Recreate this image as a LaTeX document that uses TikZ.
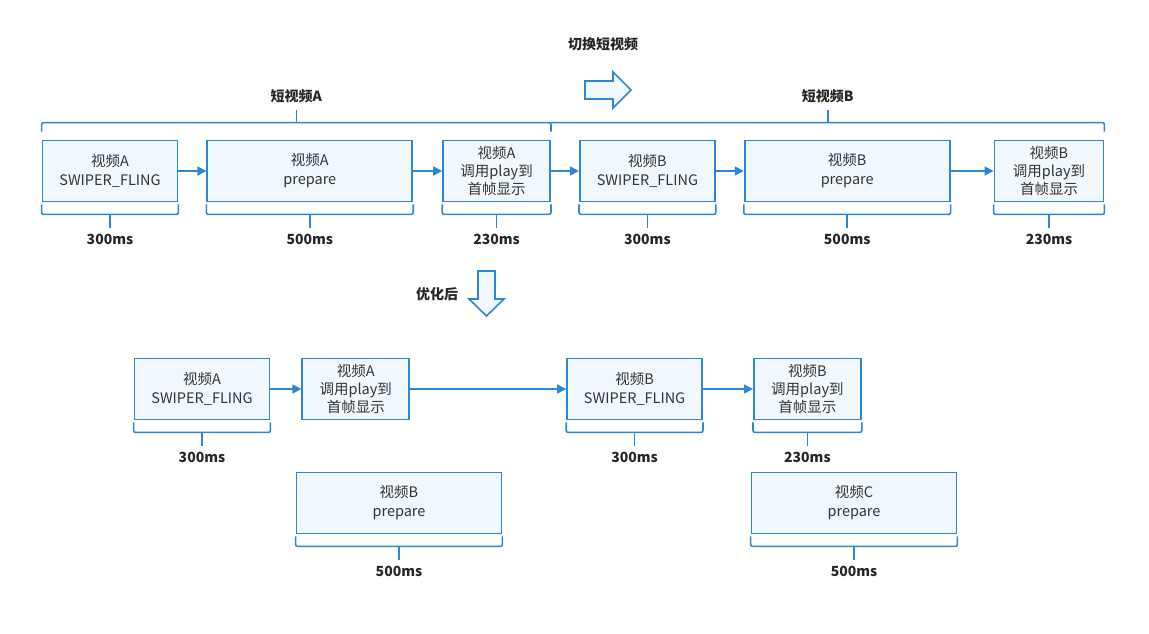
\documentclass[tikz,border=0pt]{standalone}
\usepackage{fontspec}
\setmainfont{Noto Sans CJK SC}
\usetikzlibrary{positioning}
\usetikzlibrary{arrows.meta}
\usetikzlibrary{calc}
\definecolor{lineblue}{HTML}{2B88D8}
\definecolor{boxfill}{HTML}{F0F8FE}
\definecolor{textgray}{HTML}{333333}

% time span bracket under a box: box, end coordinate, label
\newcommand{\costbrace}[3]{%
  \draw[brace] ([yshift=-2pt]#1.south west) -- ([yshift=-12pt]#1.south west)
    -- ([yshift=-12pt]#1.south east) -- ([yshift=-2pt]#1.south east);
  \draw[brace] ([yshift=-12pt]#1.south) -- ([yshift=-26pt]#1.south) coordinate (#2);
  \node[cost, below=2pt of #2] {#3};
}

\begin{document}
\begin{tikzpicture}[
  x=1pt, y=-1pt,
  font=\fontsize{14.5pt}{19pt}\selectfont,
  box/.style={draw=lineblue, line width=1.8pt, fill=boxfill, text=textgray, align=center, inner sep=0pt, minimum height=61pt},
  swiper/.style={box, minimum width=135pt},
  prep/.style={box, minimum width=205pt},
  play/.style={box, minimum width=107pt, font=\fontsize{14.5pt}{18pt}\selectfont},
  arrow/.style={-{Triangle[length=9pt,width=9pt]}, lineblue, line width=1.6pt},
  brace/.style={lineblue, line width=1.6pt, rounded corners=2pt},
  cost/.style={font=\fontsize{14pt}{16pt}\selectfont\bfseries, text=black!85},
  blockarrow/.style={draw=lineblue, line width=1.6pt, fill=boxfill, line join=miter}
]
\useasboundingbox (0,0) rectangle (1149,633);

% Before: short video A then short video B
\node[swiper] (a1) at (110,171) {视频A\\SWIPER\_FLING};
\node[prep, right=28pt of a1] (a2) {视频A\\prepare};
\node[play, right=29pt of a2] (a3) {视频A\\调用play到\\首帧显示};
\node[swiper, right=28pt of a3] (b1) {视频B\\SWIPER\_FLING};
\node[prep, right=28pt of b1] (b2) {视频B\\prepare};
\node[play, right=43pt of b2, minimum width=109pt] (b3) {视频B\\调用play到\\首帧显示};

\draw[arrow] (a1) -- (a2);
\draw[arrow] (a2) -- (a3);
\draw[arrow] (a3) -- (b1);
\draw[arrow] (b1) -- (b2);
\draw[arrow] (b2) -- (b3);

\costbrace{a1}{ta1}{300ms}
\costbrace{a2}{ta2}{500ms}
\costbrace{a3}{ta3}{230ms}
\costbrace{b1}{tb1}{300ms}
\costbrace{b2}{tb2}{500ms}
\costbrace{b3}{tb3}{230ms}

% Brackets over each short video
\draw[brace] ([yshift=8pt]a1.north west) -- ([yshift=17pt]a1.north west)
  -- ([yshift=17pt]a1.north west -| a3.east) -- ([yshift=8pt]a1.north west -| a3.east);
\draw[brace] ([yshift=17pt]a1.north west -| a3.east) -- ([yshift=17pt]a1.north west -| b3.east)
  -- ([yshift=8pt]a1.north west -| b3.east);
\draw[brace] ($([yshift=17pt]a1.north west)!0.5!([yshift=17pt]a1.north west -| a3.east)$) -- ++(0,-13) coordinate (va);
\draw[brace] ($([yshift=17pt]a1.north west -| a3.east)!0.5!([yshift=17pt]a1.north west -| b3.east)$) -- ++(0,-13) coordinate (vb);
\node[cost, above=3pt of va] (tva) {短视频A};
\node[cost, above=3pt of vb] (tvb) {短视频B};

% Switch arrow
\node[cost] (switch) at (603,44) {切换短视频};
\draw[blockarrow] (585,81) -- (613,81) -- (613,72) -- (631,90) -- (613,108) -- (613,99) -- (585,99) -- cycle;

% Optimised arrow
\node[cost] (opt) at (437,294) {优化后};
\draw[blockarrow] (478,271) -- (495,271) -- (495,299) -- (504,299) -- (486.5,316) -- (469,299) -- (478,299) -- cycle;

% After: B and C prepared while the previous one plays
\node[swiper] (a1o) at (202,389) {视频A\\SWIPER\_FLING};
\node[play, right=31pt of a1o] (a3o) {视频A\\调用play到\\首帧显示};
\node[swiper, right=156pt of a3o] (b1o) {视频B\\SWIPER\_FLING};
\node[play, right=50pt of b1o] (b3o) {视频B\\调用play到\\首帧显示};
\node[prep] (b2o) at (399,503) {视频B\\prepare};
\node[prep] (c2o) at (854,503) {视频C\\prepare};

\draw[arrow] (a1o) -- (a3o);
\draw[arrow] (a3o) -- (b1o);
\draw[arrow] (b1o) -- (b3o);

\costbrace{a1o}{ta1o}{300ms}
\costbrace{b1o}{tb1o}{300ms}
\costbrace{b3o}{tb3o}{230ms}
\costbrace{b2o}{tb2o}{500ms}
\costbrace{c2o}{tc2o}{500ms}

\end{tikzpicture}
\end{document}
